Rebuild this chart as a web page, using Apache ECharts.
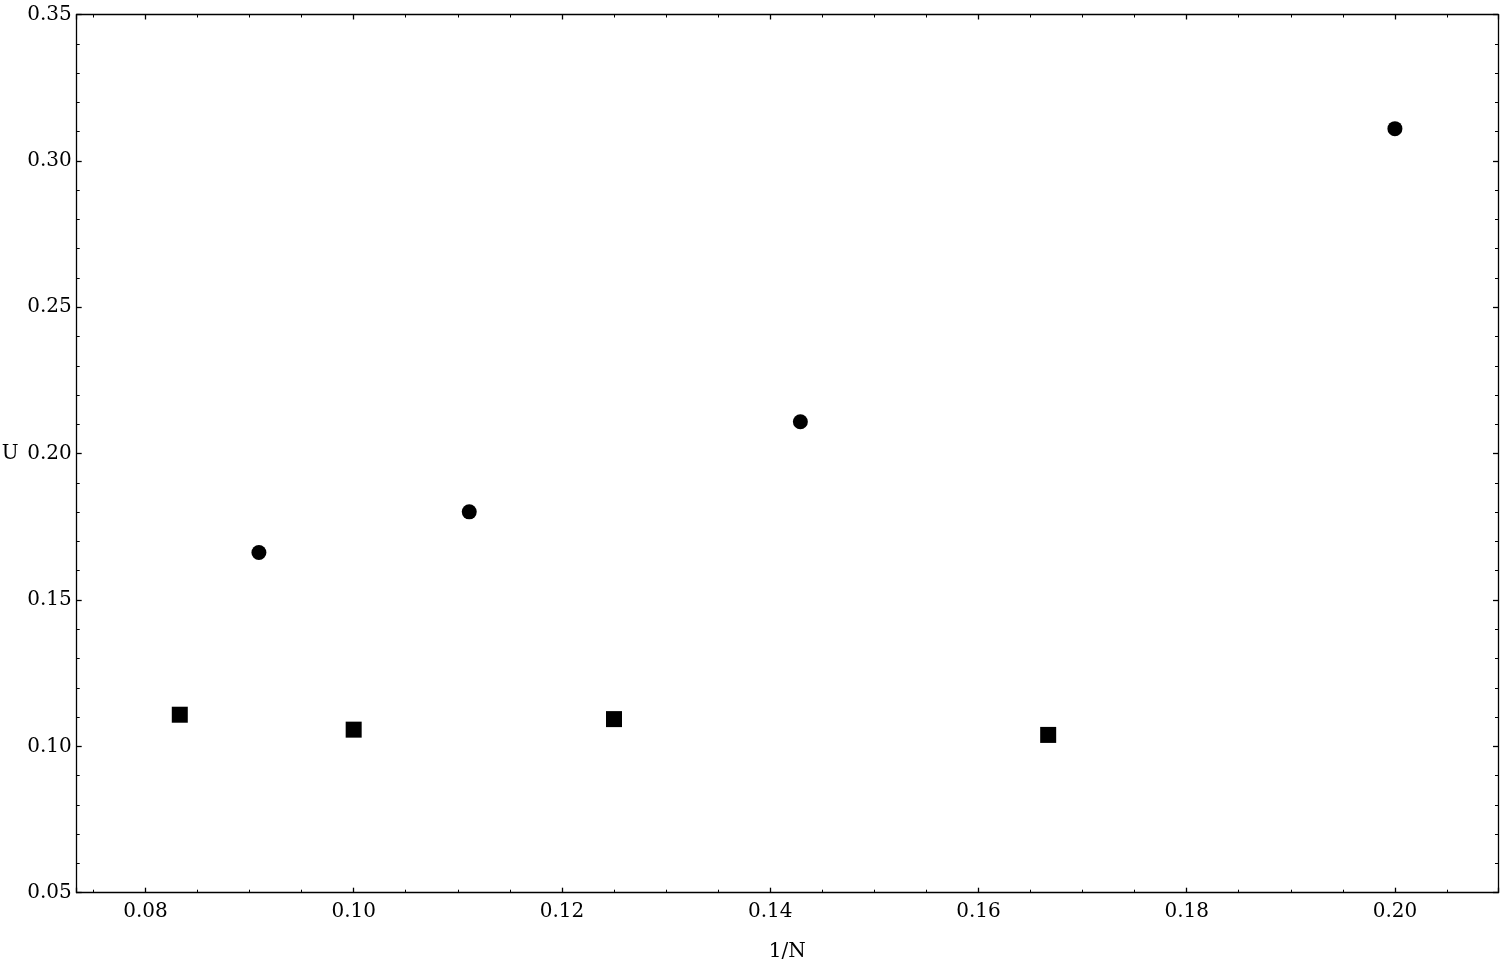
<!DOCTYPE html>
<html>
<head>
<meta charset="utf-8">
<script src="https://cdn.jsdelivr.net/npm/echarts@6/dist/echarts.min.js"></script>
<style>
html, body { margin: 0; padding: 0; background: #fff; }
#myChart { width: 1500px; height: 962px; }
</style>
</head>
<body>
<div id="myChart"></div>
<script>
// 数据 (1/N, U)
var circleX = [0.0909, 0.1111, 0.1429, 0.2000];
var circleU = [0.1662, 0.1801, 0.2109, 0.3110];
var squareX = [0.0833, 0.1000, 0.1250, 0.1667];
var squareU = [0.1108, 0.1057, 0.1093, 0.1039];

var xMin = 0.0734, xMax = 0.2099;
var yMin = 0.05, yMax = 0.35, yStep = 0.05;

function pairs(xs, ys) {
	var out = [];
	for (var i = 0; i < xs.length; i++) {
		out.push([xs[i], ys[i]]);
	}
	return out;
}

var font = 'DejaVu Serif';
var lineStyle = { color: '#000', width: 1.3 };

function xAxisCfg(pos, labels) {
	return {
		type: 'value',
		position: pos,
		min: xMin,
		max: xMax,
		splitNumber: 7,
		name: labels ? '1/N' : '',
		nameLocation: 'middle',
		nameGap: 49,
		nameTextStyle: { fontFamily: font, fontSize: 20, color: '#000' },
		axisLine: { show: true, onZero: false, lineStyle: lineStyle },
		axisTick: { show: true, inside: true, length: 5, lineStyle: lineStyle },
		minorTick: { show: true, splitNumber: 4, length: 3, lineStyle: { color: '#000', width: 1 } },
		splitLine: { show: false },
		axisLabel: {
			show: labels,
			showMinLabel: false,
			showMaxLabel: false,
			margin: 9,
			fontFamily: font,
			fontSize: 20,
			color: '#000',
			formatter: function (v) { return v.toFixed(2); }
		}
	};
}

function yAxisCfg(pos, labels) {
	return {
		type: 'value',
		position: pos,
		min: yMin,
		max: yMax,
		interval: yStep,
		name: labels ? 'U' : '',
		nameLocation: 'middle',
		nameRotate: 0,
		nameGap: 58,
		nameTextStyle: { fontFamily: font, fontSize: 20, color: '#000' },
		axisLine: { show: true, onZero: false, lineStyle: lineStyle },
		axisTick: { show: true, inside: true, length: 5, lineStyle: lineStyle },
		minorTick: { show: true, splitNumber: 5, length: 3, lineStyle: { color: '#000', width: 1 } },
		splitLine: { show: false },
		axisLabel: {
			show: labels,
			margin: 5,
			fontFamily: font,
			fontSize: 20,
			color: '#000',
			formatter: function (v) { return v.toFixed(2); }
		}
	};
}

var myChart = echarts.init(document.getElementById('myChart'));

var option = {
	animation: false,
	backgroundColor: '#fff',
	grid: { left: 76.7, right: 2, top: 14.5, bottom: 69.3, containLabel: false, outerBoundsMode: 'none' },
	xAxis: [xAxisCfg('bottom', true), xAxisCfg('top', false)],
	yAxis: [yAxisCfg('left', true), yAxisCfg('right', false)],
	series: [
		{
			name: 'circle',
			type: 'scatter',
			xAxisIndex: 0,
			yAxisIndex: 0,
			symbol: 'circle',
			symbolSize: 15,
			itemStyle: { color: '#000', opacity: 1 },
			data: pairs(circleX, circleU)
		},
		{
			name: 'square',
			type: 'scatter',
			xAxisIndex: 0,
			yAxisIndex: 0,
			symbol: 'rect',
			symbolSize: 16,
			itemStyle: { color: '#000', opacity: 1 },
			data: pairs(squareX, squareU)
		}
	]
};

myChart.setOption(option);
</script>
</body>
</html>
